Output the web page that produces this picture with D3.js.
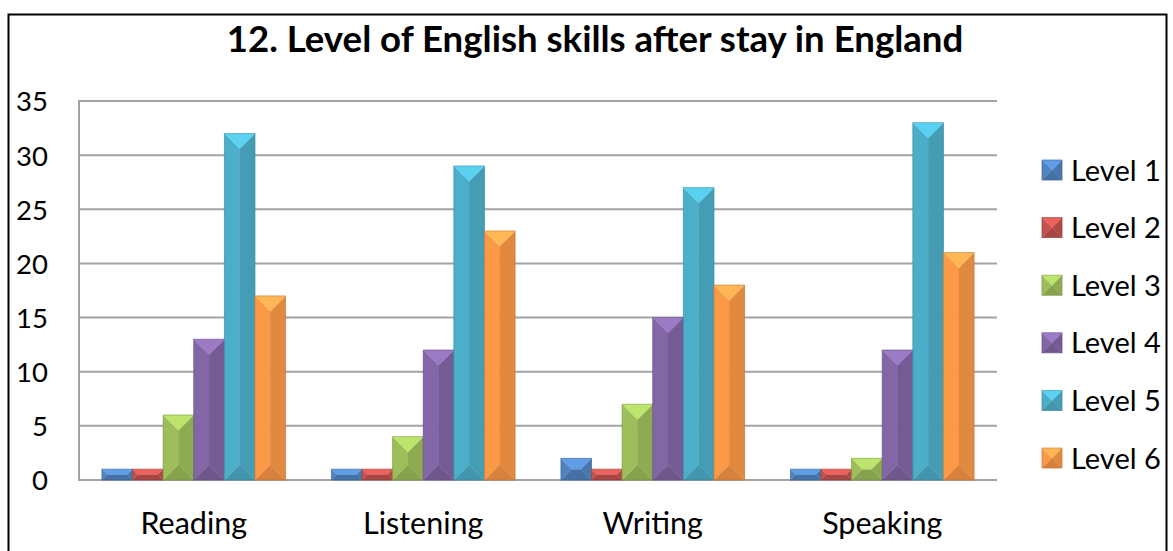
<!DOCTYPE html>
<html>
<head>
<meta charset="utf-8">
<script src="https://cdn.jsdelivr.net/npm/d3@7"></script>
<style>
  html, body { margin: 0; padding: 0; background: #ffffff; }
  svg { display: block; }
  text { font-family: Lato, "Open Sans", "Noto Sans", sans-serif; fill: #000; }
</style>
</head>
<body>
<svg id="chart" width="1173" height="551"></svg>
<script>
// Survey results: number of students per self-rated level, per skill
const categories = ["Reading", "Listening", "Writing", "Speaking"];
const seriesNames = ["Level 1", "Level 2", "Level 3", "Level 4", "Level 5", "Level 6"];
const level1 = [1, 1, 2, 1];
const level2 = [1, 1, 1, 1];
const level3 = [6, 4, 7, 2];
const level4 = [13, 12, 15, 12];
const level5 = [32, 29, 27, 33];
const level6 = [17, 23, 18, 21];
const yTicks = [0, 5, 10, 15, 20, 25, 30, 35];
const titleText = "12. Level of English skills after stay in England";

const seriesValues = [level1, level2, level3, level4, level5, level6];
const seriesColors = ["#4F81BD", "#C0504D", "#9BBB59", "#8064A2", "#4BACC6", "#F79646"];

const svg = d3.select("#chart");

// outer chart frame
svg.append("rect")
  .attr("x", 8.5).attr("y", 14.5)
  .attr("width", 1158).attr("height", 560)
  .attr("fill", "#fff")
  .attr("stroke", "#000").attr("stroke-width", 2);

const plot = { left: 79, right: 997, top: 101, bottom: 480 };

const x0 = d3.scaleBand()
  .domain(categories)
  .range([plot.left, plot.right])
  .paddingInner(0.2)
  .paddingOuter(0.1);

const x1 = d3.scaleBand()
  .domain(seriesNames)
  .range([0, x0.bandwidth()]);

const y = d3.scaleLinear()
  .domain([0, 35])
  .range([plot.bottom, plot.top]);

// horizontal gridlines
svg.append("g")
  .selectAll("line")
  .data(yTicks)
  .join("line")
  .attr("x1", plot.left).attr("x2", plot.right)
  .attr("y1", d => y(d)).attr("y2", d => y(d))
  .attr("stroke", "#a3a3a3").attr("stroke-width", 2);

// vertical axis line
svg.append("line")
  .attr("x1", plot.left).attr("x2", plot.left)
  .attr("y1", y(35) - 1).attr("y2", y(0) + 1)
  .attr("stroke", "#a3a3a3").attr("stroke-width", 2);

// y axis labels
const yAxis = svg.append("g")
  .attr("transform", `translate(${plot.left},0)`)
  .call(d3.axisLeft(y).tickValues(yTicks).tickSize(0).tickPadding(31));
yAxis.select(".domain").remove();
yAxis.selectAll("text")
  .attr("font-family", "Lato, sans-serif")
  .attr("font-size", 27.5)
  .attr("fill", "#000")
  .attr("dy", "0.36em");

// x axis labels
const xAxis = svg.append("g")
  .attr("transform", `translate(0,${plot.bottom})`)
  .call(d3.axisBottom(x0).tickSize(0).tickPadding(0));
xAxis.select(".domain").remove();
xAxis.selectAll("text")
  .attr("font-family", "Lato, sans-serif")
  .attr("font-size", 30.5)
  .attr("fill", "#000")
  .attr("y", 54)
  .attr("dy", 0);

// pyramid-bevelled box: top, left, right and bottom facets
function bevel(g, x, yTop, w, h, color) {
  const d = Math.min(w, h) / 2;
  const c = d3.color(color);
  const faces = [
    { pts: [[x, yTop + h], [x + w, yTop + h], [x + w - d, yTop + h - d], [x + d, yTop + h - d]], fill: c.darker(0.4) },
    { pts: [[x, yTop], [x + d, yTop + d], [x + d, yTop + h - d], [x, yTop + h]], fill: c.brighter(0.05) },
    { pts: [[x + w, yTop], [x + w - d, yTop + d], [x + w - d, yTop + h - d], [x + w, yTop + h]], fill: c.darker(0.25) },
    { pts: [[x, yTop], [x + w, yTop], [x + w - d, yTop + d], [x + d, yTop + d]], fill: c.brighter(0.55) }
  ];
  g.selectAll(null)
    .data(faces)
    .join("polygon")
    .attr("points", f => f.pts.map(p => p.join(",")).join(" "))
    .attr("fill", f => f.fill)
    .attr("stroke", f => f.fill)
    .attr("stroke-width", 0.4);
  g.append("rect")
    .attr("x", x).attr("y", yTop)
    .attr("width", w).attr("height", h)
    .attr("fill", "none")
    .attr("stroke", c.darker(0.9))
    .attr("stroke-opacity", 0.55)
    .attr("stroke-width", 0.8);
}

// bars
const barData = [];
categories.forEach((cat, ci) => {
  seriesNames.forEach((s, si) => {
    barData.push({ cat, series: s, value: seriesValues[si][ci], color: seriesColors[si] });
  });
});

svg.append("g")
  .selectAll("g")
  .data(barData)
  .join("g")
  .each(function (d) {
    const bx = x0(d.cat) + x1(d.series);
    const by = y(d.value);
    bevel(d3.select(this), bx, by, x1.bandwidth(), y(0) - by, d.color);
  });

// legend
const legendY = d3.scalePoint()
  .domain(seriesNames)
  .range([170, 458]);

const legend = svg.append("g");
seriesNames.forEach((s, i) => {
  const g = legend.append("g");
  bevel(g, 1042, legendY(s) - 10, 20, 20, seriesColors[i]);
  g.append("text")
    .attr("x", 1071)
    .attr("y", legendY(s) + 10.5)
    .attr("font-size", 29)
    .text(s);
});

// title
svg.append("text")
  .attr("x", 595)
  .attr("y", 52)
  .attr("text-anchor", "middle")
  .attr("font-size", 36.6)
  .attr("font-weight", "bold")
  .text(titleText);
</script>
</body>
</html>
